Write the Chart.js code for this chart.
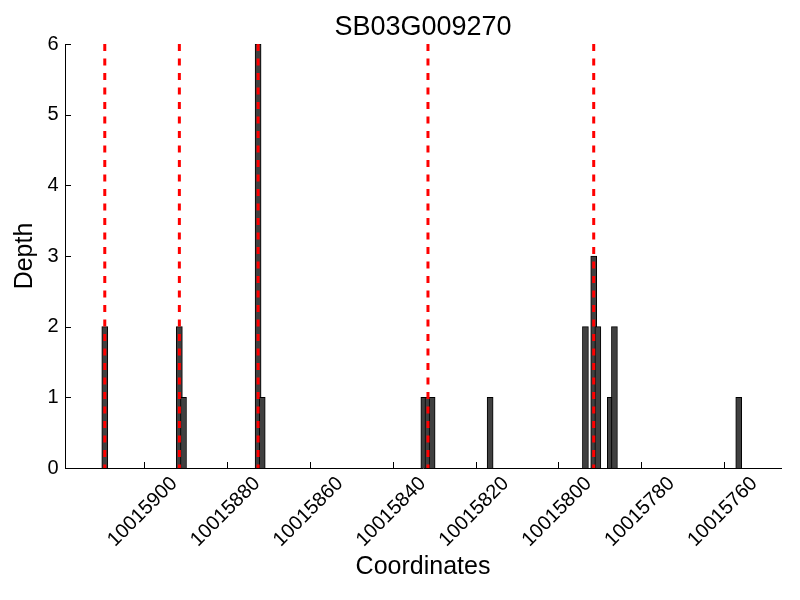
<!DOCTYPE html>
<html>
<head>
<meta charset="utf-8">
<script src="https://cdn.jsdelivr.net/npm/chart.js@4.4.1/dist/chart.umd.min.js"></script>
<style>
html,body{margin:0;padding:0;background:#fff;}
#wrap{width:800px;height:600px;}
</style>
</head>
<body>
<div id="wrap"><canvas id="c" width="800" height="600"></canvas></div>
<script>
// Data
const positions = [10015909.5, 10015891.5, 10015890.5, 10015872.5, 10015871.5,
                   10015832.5, 10015831.5, 10015830.5, 10015816.5,
                   10015793.5, 10015791.5, 10015790.5, 10015787.5, 10015786.5,
                   10015756.5];
const depths = [2, 2, 1, 6, 1, 1, 1, 1, 1, 2, 3, 2, 1, 2, 1];
const markers = [10015909.5, 10015891.5, 10015872.5, 10015831.5, 10015791.5];
const xTicks = [10015900, 10015880, 10015860, 10015840, 10015820, 10015800, 10015780, 10015760];
const yTicks = [0, 1, 2, 3, 4, 5, 6];
const titleText = 'SB03G009270';
const xLabel = 'Coordinates';
const yLabel = 'Depth';

const FONT = '"Liberation Sans", Arial, Helvetica, sans-serif';

const barData = positions.map((p, i) => ({x: p, y: depths[i]}));
const markerData = [];
markers.forEach(m => {
  markerData.push({x: m, y: 6});
  markerData.push({x: m, y: 0});
  markerData.push({x: m, y: null});
});

const innerTicks = {
  id: 'innerTicks',
  afterLayout(chart) {
    if (chart.titleBlock) {
      chart.titleBlock.left = chart.chartArea.left;
      chart.titleBlock.right = chart.chartArea.right;
      chart.titleBlock.width = chart.chartArea.right - chart.chartArea.left;
    }
  },
  afterDatasetsDraw(chart) {
    const {ctx, chartArea, scales: {x, y}} = chart;
    ctx.save();
    ctx.strokeStyle = '#000';
    ctx.lineWidth = 1;
    ctx.beginPath();
    xTicks.forEach(v => {
      const p = Math.round(x.getPixelForValue(v)) + 0.5;
      ctx.moveTo(p, chartArea.bottom);
      ctx.lineTo(p, chartArea.bottom - 6);
    });
    yTicks.forEach(v => {
      const p = Math.round(y.getPixelForValue(v)) + 0.5;
      ctx.moveTo(chartArea.left, p);
      ctx.lineTo(chartArea.left + 6, p);
    });
    ctx.stroke();
    ctx.restore();
  }
};

new Chart(document.getElementById('c'), {
  type: 'bar',
  data: {
    datasets: [
      {
        type: 'line',
        data: markerData,
        borderColor: '#ff0000',
        borderWidth: 3,
        borderDash: [7, 7.5],
        pointRadius: 0,
        spanGaps: false,
        fill: false,
        order: 0
      },
      {
        type: 'bar',
        data: barData,
        backgroundColor: '#404040',
        borderColor: '#000000',
        borderWidth: 1,
        barThickness: 6,
        order: 1
      }
    ]
  },
  options: {
    responsive: false,
    devicePixelRatio: 1,
    animation: false,
    layout: {padding: {left: 0, right: 19, top: 0, bottom: 0}},
    plugins: {
      legend: {display: false},
      tooltip: {enabled: false},
      title: {
        display: true,
        text: titleText,
        color: '#000',
        font: {family: FONT, size: 27, weight: 'normal'},
        padding: {top: 11, bottom: 0.6}
      }
    },
    scales: {
      x: {
        type: 'linear',
        reverse: true,
        offset: false,
        min: 10015746.3,
        max: 10015919.1,
        afterBuildTicks: s => { s.ticks = xTicks.map(v => ({value: v})); },
        afterFit: s => { s.height = 132; },
        grid: {display: false, drawTicks: false, offset: false},
        border: {display: true, color: '#000', width: 1},
        ticks: {
          autoSkip: false,
          minRotation: 45,
          maxRotation: 45,
          labelOffset: 30,
          padding: 4,
          color: '#000',
          font: {family: FONT, size: 20},
          callback: v => String(v)
        },
        title: {
          display: true,
          text: xLabel,
          color: '#000',
          font: {family: FONT, size: 25},
          padding: {top: 0, bottom: 17.7}
        }
      },
      y: {
        min: 0,
        max: 6,
        afterBuildTicks: s => { s.ticks = yTicks.map(v => ({value: v})); },
        afterFit: s => { s.width = 65; },
        grid: {display: false, drawTicks: false},
        border: {display: true, color: '#000', width: 1},
        ticks: {
          padding: 6.5,
          color: '#000',
          font: {family: FONT, size: 20},
          callback: v => String(v)
        },
        title: {
          display: true,
          text: yLabel,
          color: '#000',
          font: {family: FONT, size: 25},
          padding: {top: 10, bottom: 0}
        }
      }
    }
  },
  plugins: [innerTicks]
});
</script>
</body>
</html>
